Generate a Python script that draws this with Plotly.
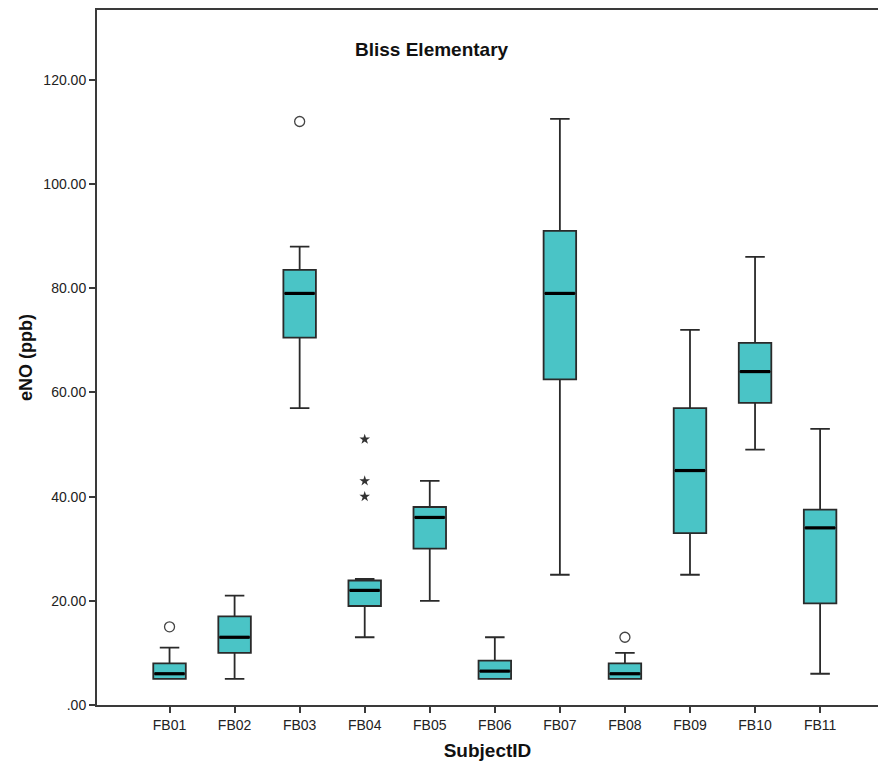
import plotly.graph_objects as go

subjects = ["FB01", "FB02", "FB03", "FB04", "FB05", "FB06", "FB07", "FB08", "FB09", "FB10", "FB11"]
lower_whisker = [5, 5, 57, 13, 20, 5, 25, 5, 25, 49, 6]
q1 = [5, 10, 70.5, 19, 30, 5, 62.5, 5, 33, 58, 19.5]
median = [6, 13, 79, 22, 36, 6.5, 79, 6, 45, 64, 34]
q3 = [8, 17, 83.5, 23.9, 38, 8.5, 91, 8, 57, 69.5, 37.5]
upper_whisker = [11, 21, 88, 24.2, 43, 13, 112.5, 10, 72, 86, 53]

# outliers (circles) and extreme values (stars)
outlier_subject = ["FB01", "FB03", "FB08"]
outlier_value = [15, 112, 13]
extreme_subject = ["FB04", "FB04", "FB04"]
extreme_value = [51, 43, 40]

y_ticks = [0, 20, 40, 60, 80, 100, 120]
y_tick_labels = [".00", "20.00", "40.00", "60.00", "80.00", "100.00", "120.00"]

FILL = "#4AC4C6"
EDGE = "#2a2a2a"
BOX_W = 0.5

idx = {s: i for i, s in enumerate(subjects)}
xs = list(range(len(subjects)))

fig = go.Figure()
fig.add_trace(go.Box(
    x=xs, q1=q1, median=median, q3=q3,
    lowerfence=lower_whisker, upperfence=upper_whisker,
    width=BOX_W, whiskerwidth=0.6,
    fillcolor=FILL, line=dict(color=EDGE, width=1.8),
    boxpoints=False, showlegend=False, hoverinfo="skip",
))

# thick black median lines
for i, m in enumerate(median):
    fig.add_shape(type="line", xref="x", yref="y",
                  x0=i - BOX_W / 2 + 0.02, x1=i + BOX_W / 2 - 0.02, y0=m, y1=m,
                  line=dict(color="black", width=3.2))

fig.add_trace(go.Scatter(
    x=[idx[s] for s in outlier_subject], y=outlier_value, mode="markers",
    marker=dict(symbol="circle-open", size=10, color="#444", line=dict(width=1.3)),
    showlegend=False, hoverinfo="skip",
))
fig.add_trace(go.Scatter(
    x=[idx[s] for s in extreme_subject], y=extreme_value, mode="markers",
    marker=dict(symbol="star", size=8, color="#333"),
    showlegend=False, hoverinfo="skip",
))

fig.update_layout(
    width=870, height=756,
    margin=dict(l=89, r=0, t=0, b=59),
    paper_bgcolor="white", plot_bgcolor="white",
    font=dict(family="Liberation Sans, Arial, sans-serif", color="#222"),
    annotations=[dict(text="<b>Bliss Elementary</b>", xref="x", yref="paper",
                      x=4.03, y=0.943, xanchor="center", yanchor="middle",
                      showarrow=False, font=dict(size=19, color="#111"))],
)
fig.update_xaxes(
    range=[-1.115, 10.89], tickmode="array", tickvals=xs, ticktext=subjects,
    showline=True, linecolor="#3a3a3a", linewidth=2, mirror=True,
    ticks="outside", ticklen=6, tickwidth=1.5, tickcolor="#3a3a3a",
    showgrid=False, zeroline=False, tickfont=dict(size=14, color="#222"),
    title=dict(text="<b>SubjectID</b>", font=dict(size=19, color="#111"), standoff=12),
)
fig.update_yaxes(
    range=[0, 133.4], tickmode="array", tickvals=y_ticks, ticktext=y_tick_labels,
    showline=True, linecolor="#3a3a3a", linewidth=2,
    ticks="outside", ticklen=6, tickwidth=1.5, tickcolor="#3a3a3a",
    showgrid=False, zeroline=False, tickfont=dict(size=14, color="#222"),
    title=dict(text="<b>eNO (ppb)</b>", font=dict(size=18, color="#111"), standoff=6),
)

fig.write_html("out.html")
